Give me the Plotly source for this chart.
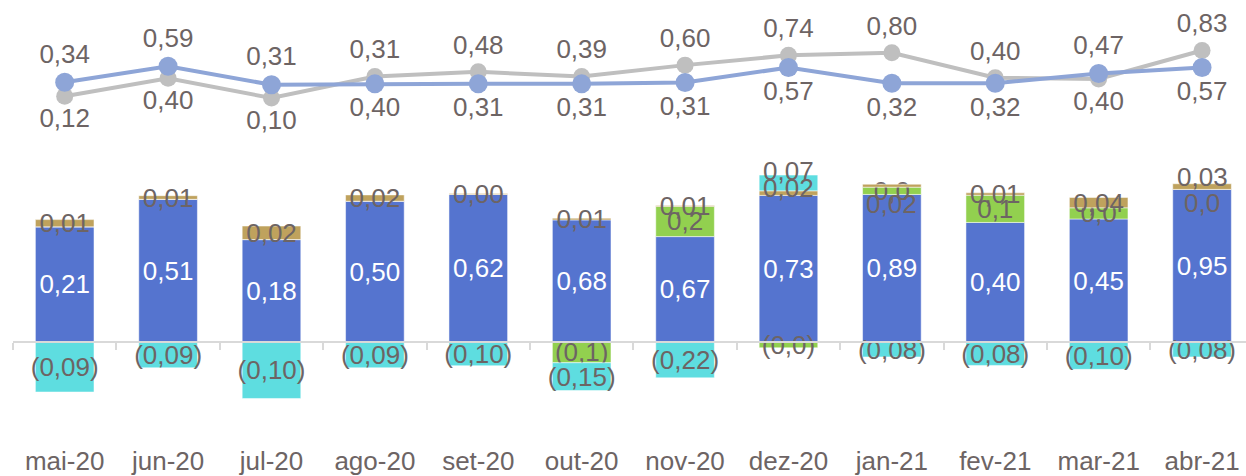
import plotly.graph_objects as go

months = ["mai-20", "jun-20", "jul-20", "ago-20", "set-20", "out-20",
          "nov-20", "dez-20", "jan-21", "fev-21", "mar-21", "abr-21"]

# stacked bar segment heights (as drawn)
blue_vals = [0.733, 0.908, 0.652, 0.896, 0.939, 0.777, 0.671, 0.933, 0.939, 0.761, 0.783, 0.971]
green_vals = [0, 0, 0, 0, 0, -0.131, 0.192, -0.036, 0.046, 0.173, 0.071, 0]
gold_vals = [0.046, 0.023, 0.086, 0.040, 0.006, 0.011, 0.006, 0.029, 0.019, 0.015, 0.066, 0.036]
cyan_vals = [-0.317, -0.163, -0.358, -0.163, -0.150, -0.177, -0.227, 0.100, -0.094, -0.148, -0.173, -0.094]

blue_labels = ["0,21", "0,51", "0,18", "0,50", "0,62", "0,68", "0,67", "0,73", "0,89", "0,40", "0,45", "0,95"]
green_labels = ["", "", "", "", "", "(0,1)", "0,2", "(0,0)", "0,0", "0,1", "0,0", "0,0"]
gold_labels = ["0,01", "0,01", "0,02", "0,02", "0,00", "0,01", "0,01", "0,02", "0,02", "0,01", "0,04", "0,03"]
cyan_labels = ["(0,09)", "(0,09)", "(0,10)", "(0,09)", "(0,10)", "(0,15)", "(0,22)", "0,07",
               "(0,08)", "(0,08)", "(0,10)", "(0,08)"]

# lines (as drawn) and their labels
line_blue_vals = [1.652, 1.754, 1.636, 1.642, 1.642, 1.642, 1.650, 1.746, 1.646, 1.646, 1.708, 1.746]
line_gray_vals = [1.563, 1.677, 1.552, 1.688, 1.719, 1.688, 1.761, 1.823, 1.839, 1.681, 1.673, 1.854]
line_blue_labels = ["0,34", "0,59", "0,31", "0,40", "0,31", "0,31", "0,31", "0,57", "0,32", "0,32", "0,47", "0,57"]
line_gray_labels = ["0,12", "0,40", "0,10", "0,31", "0,48", "0,39", "0,60", "0,74", "0,80", "0,40", "0,40", "0,83"]

# styles
FONT = "Liberation Sans, Arial, sans-serif"
TXT = "#6D6464"
C_BLUE = "#5574CF"
C_GREEN = "#92D04F"
C_GOLD = "#BFA25D"
C_CYAN = "#5EDDE0"
C_LBLUE = "#8EA5D7"
C_LGRAY = "#BFBFBF"
FS = 26

Y_MIN, Y_MAX = -0.800, 2.175

# labels moved off their segment (trace, index) -> pixel shift
moved = {("gold", 7): 5, ("cyan", 7): 12, ("gold", 8): -18, ("gold", 11): 10, ("green", 11): -14}

fig = go.Figure()

series = [("blue", blue_vals, blue_labels, C_BLUE, "white"),
          ("green", green_vals, green_labels, C_GREEN, TXT),
          ("gold", gold_vals, gold_labels, C_GOLD, TXT),
          ("cyan", cyan_vals, cyan_labels, C_CYAN, TXT)]

for name, vals, labels, col, tcol in series:
    txt = [("" if (name, i) in moved else t) for i, t in enumerate(labels)]
    fig.add_trace(go.Bar(
        x=months, y=vals, name=name,
        marker=dict(color=col, line=dict(width=1, color="rgba(255,255,255,0.5)")),
        text=txt, textposition="inside", insidetextanchor="middle",
        textangle=0, constraintext="none",
        insidetextfont=dict(family=FONT, size=FS, color=tcol),
        showlegend=False, hoverinfo="skip"))

# annotations for labels that were moved
pos_cum = [0.0] * len(months)
neg_cum = [0.0] * len(months)
for name, vals, labels, col, tcol in series:
    for i, v in enumerate(vals):
        if v >= 0:
            base = pos_cum[i]
            pos_cum[i] += v
        else:
            base = neg_cum[i]
            neg_cum[i] += v
        if (name, i) in moved:
            fig.add_annotation(x=months[i], y=base + v / 2, text=labels[i],
                               showarrow=False, yshift=moved[(name, i)],
                               font=dict(family=FONT, size=FS, color=tcol))

blue_pos = ["top center" if b > g else "bottom center" for b, g in zip(line_blue_vals, line_gray_vals)]
gray_pos = ["top center" if g > b else "bottom center" for b, g in zip(line_blue_vals, line_gray_vals)]

fig.add_trace(go.Scatter(
    x=months, y=line_gray_vals, mode="lines+markers+text",
    line=dict(color=C_LGRAY, width=4), marker=dict(color=C_LGRAY, size=17),
    text=line_gray_labels, textposition=gray_pos,
    textfont=dict(family=FONT, size=FS, color=TXT), showlegend=False, hoverinfo="skip"))
fig.add_trace(go.Scatter(
    x=months, y=line_blue_vals, mode="lines+markers+text",
    line=dict(color=C_LBLUE, width=4), marker=dict(color=C_LBLUE, size=19),
    text=line_blue_labels, textposition=blue_pos,
    textfont=dict(family=FONT, size=FS, color=TXT), showlegend=False, hoverinfo="skip"))

n = len(months)
fig.update_layout(
    width=1246, height=476, barmode="relative", bargap=0.433,
    margin=dict(l=13, r=0, t=0, b=0),
    paper_bgcolor="white", plot_bgcolor="white",
    xaxis=dict(type="category", range=[-0.5, n - 0.5 - 0.075],
               anchor="free", position=(0 - Y_MIN) / (Y_MAX - Y_MIN),
               showline=True, linecolor="#D9D9D9", linewidth=2,
               ticks="outside", tickson="boundaries", ticklen=7, tickwidth=2, tickcolor="#D9D9D9",
               ticklabelstandoff=96, showgrid=False, zeroline=False,
               tickfont=dict(family=FONT, size=26, color=TXT)),
    yaxis=dict(range=[Y_MIN, Y_MAX], visible=False, showgrid=False, zeroline=False),
)

fig.write_html("out.html")
